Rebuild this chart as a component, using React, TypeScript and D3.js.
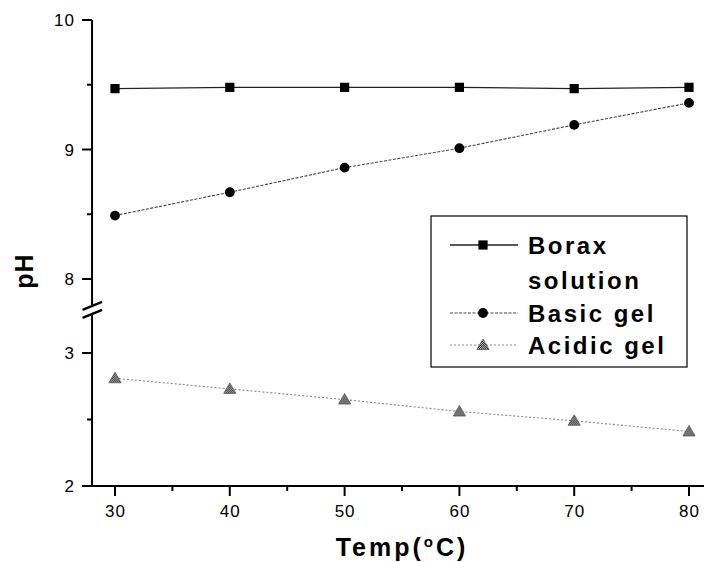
import React, { useEffect, useRef } from 'react';
import * as d3 from 'd3';

const temps = [30, 40, 50, 60, 70, 80];
const boraxPH = [9.47, 9.48, 9.48, 9.48, 9.47, 9.48];
const basicGelPH = [8.49, 8.67, 8.86, 9.01, 9.19, 9.36];
const acidicGelPH = [2.81, 2.73, 2.65, 2.56, 2.49, 2.41];

const xMajorTicks = [30, 40, 50, 60, 70, 80];
const xMinorTicks = [35, 45, 55, 65, 75];
const upperMajorTicks = [10, 9, 8];
const upperMinorTicks = [9.5, 8.5];
const lowerMajorTicks = [3, 2];
const lowerMinorTicks = [2.5];

const legendRows = [
  { label: 'Borax', sub: 'solution', key: 'borax' },
  { label: 'Basic gel', key: 'basic' },
  { label: 'Acidic gel', key: 'acidic' },
];

const W = 704;
const H = 562;
const FONT = "Arial, 'Liberation Sans', sans-serif";

const App = () => {
  const svgRef = useRef<SVGSVGElement | null>(null);

  useEffect(() => {
    const svgElement = svgRef.current;
    if (!svgElement) return;
    const svg = d3.select(svgElement);
    svg.selectAll('*').remove();

    // hatched grey fill for the triangles
    const pat = svg.append('defs').append('pattern')
      .attr('id', 'hatch')
      .attr('patternUnits', 'userSpaceOnUse')
      .attr('width', 2).attr('height', 2);
    pat.append('rect').attr('width', 2).attr('height', 2).attr('fill', '#b0b0b0');
    pat.append('rect').attr('width', 1).attr('height', 1).attr('fill', '#333');
    pat.append('rect').attr('x', 1).attr('y', 1).attr('width', 1).attr('height', 1).attr('fill', '#333');

    const x = d3.scaleLinear().domain([30, 80]).range([115, 689]);
    // broken y axis: upper part 8-10, lower part 2-3
    const yUp = d3.scaleLinear().domain([8, 10]).range([279, 20]);
    const yLow = d3.scaleLinear().domain([2, 3]).range([486, 353]);
    const axisX = x(28);
    const upBottom = 7.8;
    const lowTop = 3.3;

    const g = svg.append('g');

    // y axis segments
    g.append('line')
      .attr('x1', axisX).attr('x2', axisX)
      .attr('y1', yUp(10)).attr('y2', yUp(upBottom))
      .attr('stroke', '#000').attr('stroke-width', 2);
    g.append('line')
      .attr('x1', axisX).attr('x2', axisX)
      .attr('y1', yLow(lowTop)).attr('y2', yLow(2))
      .attr('stroke', '#000').attr('stroke-width', 2);

    // break marks
    const bx1 = axisX - 9.5, bx2 = axisX + 10;
    [0, 8].forEach(off => {
      g.append('line')
        .attr('x1', bx1).attr('y1', yUp(upBottom) + 5 + off)
        .attr('x2', bx2).attr('y2', yUp(upBottom) - 3 + off)
        .attr('stroke', '#000').attr('stroke-width', 2.4);
    });

    // x axis line
    g.append('line')
      .attr('x1', axisX - 10).attr('x2', W)
      .attr('y1', yLow(2)).attr('y2', yLow(2))
      .attr('stroke', '#000').attr('stroke-width', 2);

    // y ticks
    const yTick = (yy: number, len: number) =>
      g.append('line')
        .attr('x1', axisX - len).attr('x2', axisX)
        .attr('y1', yy).attr('y2', yy)
        .attr('stroke', '#000').attr('stroke-width', 2);
    upperMajorTicks.forEach(v => yTick(yUp(v), 10));
    upperMinorTicks.forEach(v => yTick(yUp(v), 5));
    lowerMajorTicks.forEach(v => yTick(yLow(v), 10));
    lowerMinorTicks.forEach(v => yTick(yLow(v), 5));

    const yLabels = [
      ...upperMajorTicks.map(v => ({ v, y: yUp(v) })),
      ...lowerMajorTicks.map(v => ({ v, y: yLow(v) })),
    ];
    g.selectAll('.ylab')
      .data(yLabels)
      .enter()
      .append('text')
      .attr('x', axisX - 17)
      .attr('y', d => d.y + 6)
      .attr('text-anchor', 'end')
      .attr('font-family', FONT)
      .attr('font-size', 17)
      .attr('letter-spacing', 1)
      .text(d => String(d.v));

    // x ticks
    const y0 = yLow(2);
    g.selectAll('.xmaj')
      .data(xMajorTicks)
      .enter()
      .append('line')
      .attr('x1', d => x(d)).attr('x2', d => x(d))
      .attr('y1', y0).attr('y2', y0 + 10)
      .attr('stroke', '#000').attr('stroke-width', 2);
    g.selectAll('.xmin')
      .data(xMinorTicks)
      .enter()
      .append('line')
      .attr('x1', d => x(d)).attr('x2', d => x(d))
      .attr('y1', y0).attr('y2', y0 + 5)
      .attr('stroke', '#000').attr('stroke-width', 2);
    g.selectAll('.xlab')
      .data(xMajorTicks)
      .enter()
      .append('text')
      .attr('x', d => x(d) + 0.5)
      .attr('y', y0 + 31)
      .attr('text-anchor', 'middle')
      .attr('font-family', FONT)
      .attr('font-size', 17)
      .attr('letter-spacing', 1)
      .text(d => String(d));

    // axis titles
    const title = g.append('text')
      .attr('x', 402)
      .attr('y', 556)
      .attr('text-anchor', 'middle')
      .attr('font-family', FONT)
      .attr('font-size', 25)
      .attr('font-weight', 'bold')
      .attr('letter-spacing', 3);
    title.append('tspan').text('Temp(');
    title.append('tspan').attr('dy', -9).attr('font-size', 15).text('o');
    title.append('tspan').attr('dy', 9).text('C)');

    g.append('text')
      .attr('transform', `translate(33,271) rotate(-90)`)
      .attr('text-anchor', 'middle')
      .attr('font-family', FONT)
      .attr('font-size', 25)
      .attr('font-weight', 'bold')
      .attr('letter-spacing', 1)
      .text('pH');

    // series
    const boraxPts = temps.map((t, i) => [x(t), yUp(boraxPH[i])] as [number, number]);
    const basicPts = temps.map((t, i) => [x(t), yUp(basicGelPH[i])] as [number, number]);
    const acidicPts = temps.map((t, i) => [x(t), yLow(acidicGelPH[i])] as [number, number]);
    const line = d3.line();

    g.append('path').attr('d', line(boraxPts))
      .attr('fill', 'none').attr('stroke', '#222').attr('stroke-width', 1.4);
    g.append('path').attr('d', line(basicPts))
      .attr('fill', 'none').attr('stroke', '#444').attr('stroke-width', 1.1)
      .attr('stroke-dasharray', '3,1.5');
    g.append('path').attr('d', line(acidicPts))
      .attr('fill', 'none').attr('stroke', '#888').attr('stroke-width', 1.1)
      .attr('stroke-dasharray', '2,2');

    const square = d3.symbol().type(d3.symbolSquare).size(85);
    const circle = d3.symbol().type(d3.symbolCircle).size(76);
    const triangle = d3.symbol().type(d3.symbolTriangle).size(64);

    const drawMarker = (key: string, px: number, py: number) => {
      if (key === 'borax') {
        g.append('path').attr('d', square()).attr('transform', `translate(${px},${py})`)
          .attr('fill', '#000');
      } else if (key === 'basic') {
        g.append('path').attr('d', circle()).attr('transform', `translate(${px},${py})`)
          .attr('fill', '#000');
      } else {
        g.append('path').attr('d', triangle()).attr('transform', `translate(${px},${py + 1})`)
          .attr('fill', 'url(#hatch)').attr('stroke', '#555').attr('stroke-width', 0.8);
      }
    };
    boraxPts.forEach(p => drawMarker('borax', p[0], p[1]));
    basicPts.forEach(p => drawMarker('basic', p[0], p[1]));
    acidicPts.forEach(p => drawMarker('acidic', p[0], p[1]));

    // legend
    const lg = g.append('g');
    lg.append('rect')
      .attr('x', 431).attr('y', 216)
      .attr('width', 256).attr('height', 151)
      .attr('fill', '#fff').attr('stroke', '#000').attr('stroke-width', 1.2);
    const rowY = [245, 313, 345];
    const styles: Record<string, { stroke: string; dash: string; w: number }> = {
      borax: { stroke: '#222', dash: 'none', w: 1.4 },
      basic: { stroke: '#444', dash: '3,1.5', w: 1.1 },
      acidic: { stroke: '#888', dash: '2,2', w: 1.1 },
    };
    legendRows.forEach((r, i) => {
      const yy = rowY[i];
      const st = styles[r.key];
      lg.append('line')
        .attr('x1', 450).attr('x2', 518).attr('y1', yy).attr('y2', yy)
        .attr('stroke', st.stroke).attr('stroke-width', st.w)
        .attr('stroke-dasharray', st.dash);
      drawMarker(r.key, 483, yy);
      lg.append('text')
        .attr('x', 528).attr('y', yy + 9)
        .attr('font-family', FONT).attr('font-size', 24)
        .attr('font-weight', 'bold').attr('letter-spacing', 2.5)
        .text(r.label);
      if (r.sub) {
        lg.append('text')
          .attr('x', 528).attr('y', yy + 44)
          .attr('font-family', FONT).attr('font-size', 24)
          .attr('font-weight', 'bold').attr('letter-spacing', 2.5)
          .text(r.sub);
      }
    });
  }, []);

  return (
    <svg
      ref={svgRef}
      width={W}
      height={H}
      style={{ position: 'absolute', left: 0, top: 0, background: '#fff' }}
    />
  );
};

export default App;
